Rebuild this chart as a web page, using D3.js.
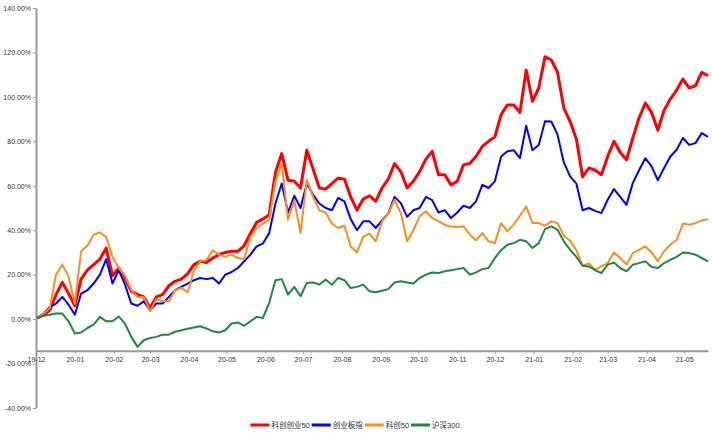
<!DOCTYPE html>
<html>
<head>
<meta charset="utf-8">
<script src="https://cdn.jsdelivr.net/npm/d3@7/dist/d3.min.js"></script>
<style>
  body { margin: 0; background: #fff; }
  svg { display: block; font-family: "Liberation Sans", Arial, "Noto Sans CJK SC", sans-serif; }
</style>
</head>
<body>
<div id="my_dataviz"></div>
<script>
// series names / colours (legend order = draw order)
var seriesNames = ["科创创业50", "创业板指", "科创50", "沪深300"];
var seriesColors = ["#ff0000", "#0000ff", "#ff8c1a", "#1c8a40"];
var seriesWidths = [3, 2, 2, 2];

// one reading every 5 calendar days from 2019-12-02
var startDate = new Date(2019, 11, 2);
var dates = d3.range(108).map(function(i) { return d3.timeDay.offset(startDate, 5 * i); });

// cumulative return, %
var kccy50 = [0.5, 2, 4, 11, 16.5, 11.5, 6, 18, 22, 24.5, 27, 32, 19.5, 23, 18.5, 12.5, 11, 10, 5, 10,
  11, 15, 17, 18, 20.5, 24.5, 26, 25.5, 27.5, 29, 30, 30.5, 30.5, 33, 38.5, 43.5, 45, 47, 66, 74.5,
  62.5, 62, 59, 76, 67.5, 59, 58.5, 61, 63.4, 63, 55, 49, 54, 55.5, 53, 59, 63, 70, 66.4, 59,
  62, 66.4, 72, 75.5, 65, 65, 60.4, 62, 69.4, 70, 73.2, 77.7, 80, 82, 92, 96.4, 96.4, 93, 112, 98,
  104, 118, 116.6, 111, 95, 88.9, 81, 64, 68, 67, 65, 73.2, 80, 75, 71.7, 81.4, 90.5, 97.2, 93, 85,
  94, 99, 103, 108, 104, 105, 111, 109.5];
var cybz = [0.5, 2.5, 5.5, 7, 10, 6.5, 2, 11.5, 13, 16, 20, 27, 16, 22, 15.5, 7, 6, 8, 4, 7,
  7, 10, 13, 14.5, 16, 17.5, 18.5, 18, 18.5, 16, 20, 21.2, 23, 26, 29, 32.7, 34, 38.7, 52, 61,
  48, 55.5, 50, 61, 56, 52, 50, 49, 54.5, 53, 45, 40, 44, 44, 41, 44.4, 47.5, 55, 52.2, 46,
  49, 50, 55, 53.5, 48, 49, 45.5, 48, 51, 50, 53, 60.4, 59, 62, 73.2, 75.5, 76, 72.4, 87, 76,
  78.4, 89, 88.9, 83, 70.5, 64.2, 61, 49, 50, 48.7, 47.7, 53.7, 58.5, 55, 51.4, 61.2, 67, 72.4, 68.7, 62.5,
  68, 73.2, 76.2, 81.5, 78.4, 79.2, 83.7, 82];
var kc50 = [0.5, 2.5, 5, 20, 24.5, 19, 7, 30.5, 33, 38, 39, 37, 28, 23, 19.5, 13, 10, 10, 3.5, 9,
  8, 8, 13, 14, 12, 22, 26, 26.5, 31, 29, 28, 29, 27.5, 27, 37, 41, 43, 44.7, 62, 70,
  44.7, 53.5, 38.7, 62.7, 55, 49, 48, 43, 41, 42, 32.7, 30, 37, 38.5, 35, 44, 47.5, 53.7, 47.7, 35,
  40, 46.2, 48.5, 45.5, 44, 42.5, 41.7, 41.5, 41.7, 38, 35.5, 38.7, 35, 34.2, 43.2, 39.5, 42.5, 46.5, 50.7, 43.2,
  43.2, 42, 44, 43.2, 37.5, 35.3, 31, 24, 25, 22.2, 23.7, 25.2, 30, 27.5, 24.5, 29.7, 31.2, 32.7, 30, 26,
  30.5, 33.5, 35.7, 43, 42.5, 43.2, 44.4, 45];
var hs300 = [0.5, 1.5, 2, 2.5, 2.5, -1, -6.5, -6, -4, -2.5, 1, -1, -1, 1.2, -2, -8, -12.5, -9.5, -8.5, -8,
  -7, -7, -5.7, -5, -4.3, -3.8, -3.2, -4.2, -5.5, -6, -5, -2, -1.5, -3, -1, 1, 0.5, 7.3, 17.5, 18,
  11, 14.5, 10.3, 16.3, 16.5, 15.5, 17.8, 15.5, 18.5, 17.5, 14, 14.5, 15.5, 12.5, 12.1, 12.8, 13.5, 16.5, 17, 16.5,
  16, 18.5, 20, 21, 20.7, 21.5, 22, 22.5, 23, 20, 21, 22.5, 23, 27.5, 31, 33.5, 34.2, 35.7, 35, 32,
  34.2, 40.5, 41.7, 40.2, 35, 31.2, 28, 24, 23.7, 22, 20.7, 24.5, 25.5, 23, 21.5, 24.5, 25.2, 26, 23.5, 23,
  25.2, 26.7, 28, 30, 29.7, 29, 27.5, 26];
var seriesValues = [kccy50, cybz, kc50, hs300];

// y tick values, %
var yTicks = [-40, -20, 0, 20, 40, 60, 80, 100, 120, 140];

var width = 712, height = 433;
var svg = d3.select("#my_dataviz")
  .append("svg")
    .attr("width", width)
    .attr("height", height);

var x = d3.scaleTime()
  .domain([new Date(2019, 11, 1), new Date(2021, 4, 20)])
  .range([36, 708]);

var y = d3.scaleLinear()
  .domain([-40, 140])
  .range([408, 8]);

// y axis
var yAxis = svg.append("g")
  .attr("transform", "translate(36,0)")
  .call(d3.axisLeft(y)
    .tickValues(yTicks)
    .tickSize(3)
    .tickPadding(2)
    .tickSizeOuter(0)
    .tickFormat(function(d) { return d.toFixed(2) + "%"; }));
yAxis.select(".domain").attr("stroke", "#999").attr("stroke-width", 2);
yAxis.selectAll(".tick line").attr("stroke", "#999");
yAxis.selectAll(".tick text").attr("fill", "#333").style("font-size", "7px");

// x axis, sits a bit under the lowest value
var xAxis = svg.append("g")
  .attr("transform", "translate(0," + y(-14.2) + ")")
  .call(d3.axisBottom(x)
    .ticks(d3.timeMonth.every(1))
    .tickSize(3)
    .tickSizeOuter(0)
    .tickFormat(d3.timeFormat("%y-%m")));
xAxis.select(".domain").attr("stroke", "#999").attr("stroke-width", 2);
xAxis.selectAll(".tick line").attr("stroke", "#999");
xAxis.selectAll(".tick text").attr("fill", "#333").style("font-size", "7px");

// lines
var line = d3.line()
  .x(function(d, i) { return x(dates[i]); })
  .y(function(d) { return y(d); });

seriesValues.forEach(function(vals, k) {
  svg.append("path")
    .datum(vals)
    .attr("fill", "none")
    .attr("stroke", seriesColors[k])
    .attr("stroke-width", seriesWidths[k])
    .attr("stroke-linejoin", "round")
    .attr("d", line);
});

// legend, centred at bottom
var legend = svg.append("g");
var lx = 0;
seriesNames.forEach(function(name, k) {
  legend.append("line")
    .attr("x1", lx).attr("x2", lx + 19)
    .attr("y1", 0).attr("y2", 0)
    .attr("stroke", seriesColors[k])
    .attr("stroke-width", 3);
  var t = legend.append("text")
    .attr("x", lx + 21)
    .attr("y", 0)
    .attr("dy", "0.35em")
    .attr("fill", "#333")
    .style("font-size", "7.5px")
    .text(name);
  lx += 21 + t.node().getComputedTextLength() + 2;
});
legend.attr("transform", "translate(" + (356 - lx / 2) + ",425)");
</script>
</body>
</html>
